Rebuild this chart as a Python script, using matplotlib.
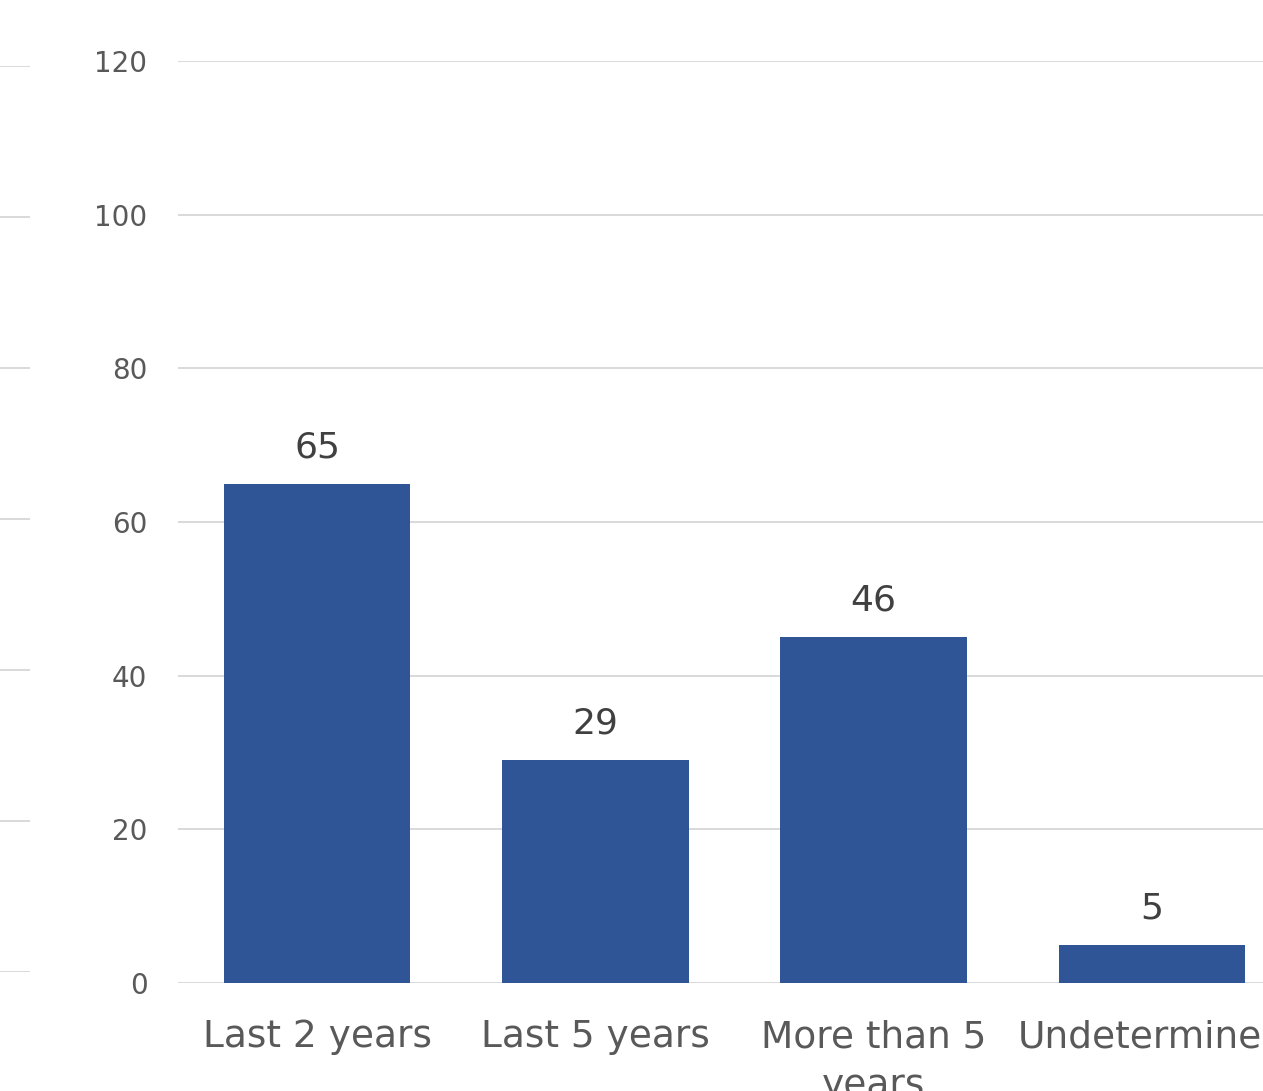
import matplotlib.pyplot as plt

# Data
categories = ["Last 2 years", "Last 5 years", "More than 5\nyears", "Undetermined"]
bar_values = [65, 29, 45, 5]
bar_labels = ["65", "29", "46", "5"]
y_ticks = [0, 20, 40, 60, 80, 100, 120]

bar_color = "#2F5597"
grid_color = "#D9D9D9"

fig = plt.figure(figsize=(12.63, 10.91), dpi=100)

# stubs of the neighbouring chart's gridlines at the left edge
stub = fig.add_axes([0, 1 - 972 / 1091, 30 / 1263, (972 - 66) / 1091])
stub.set_ylim(0, 120)
stub.set_xlim(0, 1)
for t in y_ticks:
    stub.axhline(t, color=grid_color, lw=1.4)
stub.axis("off")

# main chart (plot area runs past the right edge of the picture)
ax = fig.add_axes([178 / 1263, 1 - 983 / 1091, (1291 - 178) / 1263, (983 - 61) / 1091])
x = range(len(categories))
bars = ax.bar(x, bar_values, width=0.67, color=bar_color, zorder=3)
ax.set_xlim(-0.5, len(categories) - 0.5)
ax.set_ylim(0, 120)
ax.set_yticks(y_ticks)
ax.yaxis.grid(True, color=grid_color, lw=1.4, zorder=0)
ax.set_axisbelow(True)

for s in ax.spines.values():
    s.set_visible(False)
ax.tick_params(axis="y", length=0, pad=22, labelsize=20, labelcolor="#595959")
ax.tick_params(axis="x", length=0, pad=26, labelsize=27, labelcolor="#595959")
ax.set_xticks(list(x))
ax.set_xticklabels(categories, linespacing=1.45, va="top")

for b, lab in zip(bars, bar_labels):
    ax.annotate(lab, (b.get_x() + b.get_width() / 2, b.get_height()),
                xytext=(0, 14), textcoords="offset points",
                ha="center", va="bottom", fontsize=26, color="#404040")

fig.savefig("out.png", dpi=100)
